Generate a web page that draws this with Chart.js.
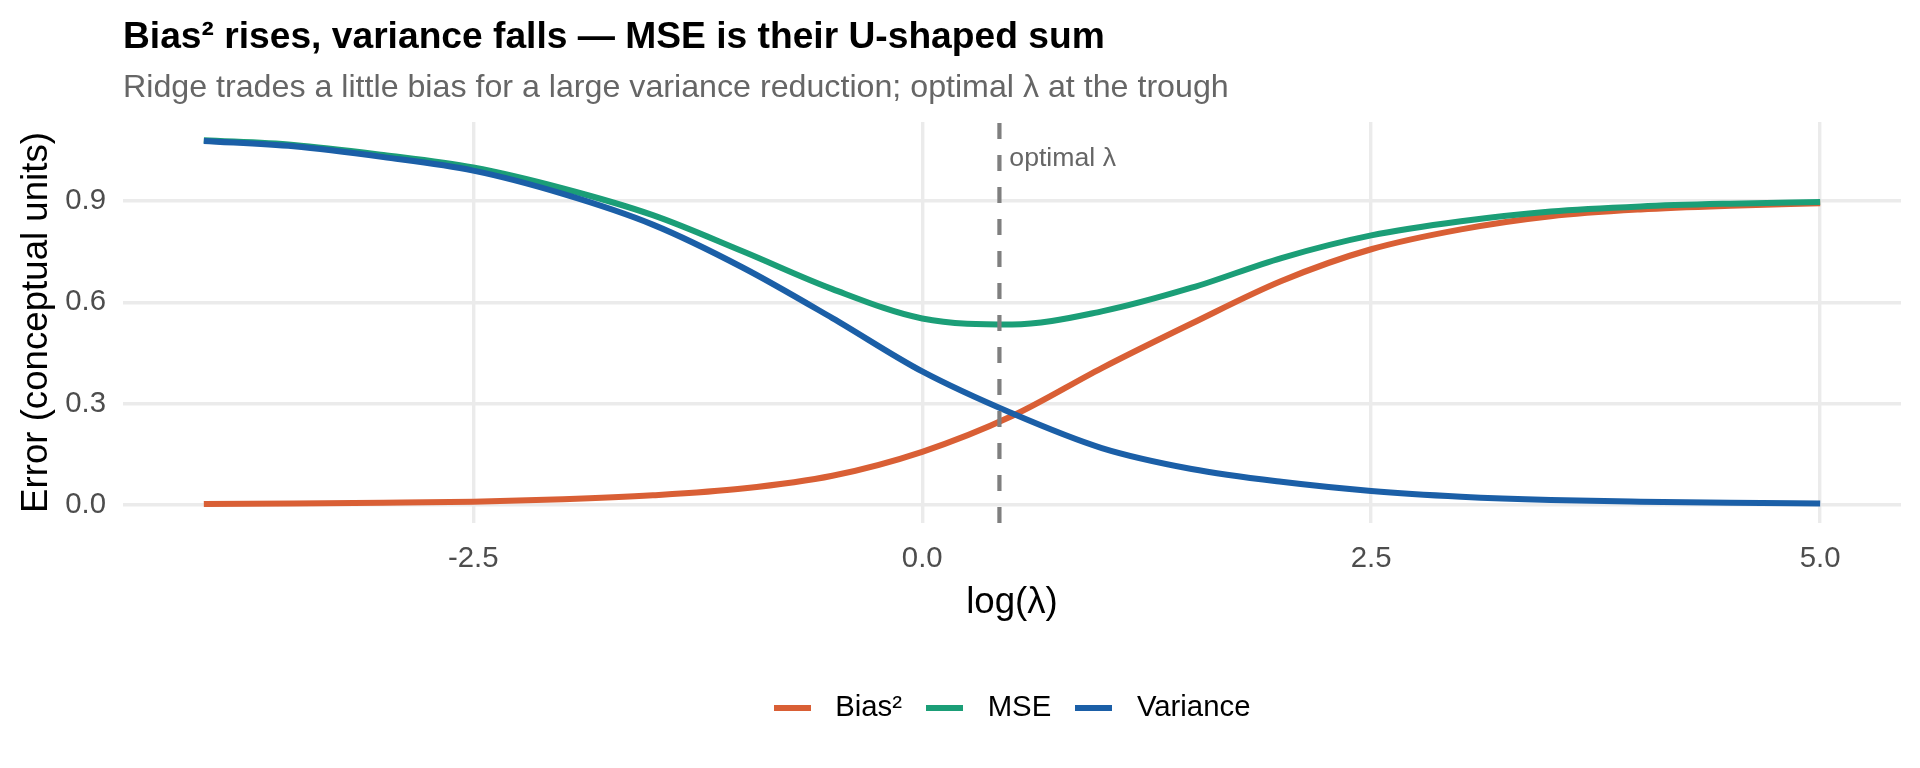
<!DOCTYPE html>
<html>
<head>
<meta charset="utf-8">
<script src="https://cdn.jsdelivr.net/npm/chart.js@4"></script>
<style>
  html, body { margin: 0; padding: 0; background: #ffffff; }
  #wrap { width: 1920px; height: 768px; }
</style>
</head>
<body>
<div id="wrap"><canvas id="c" width="1920" height="768"></canvas></div>
<script>
// ---- data ----
const LOG_LAMBDA = [-4, -3.5, -3, -2.5, -2, -1.5, -1, -0.5, 0, 0.5, 1, 1.5, 2, 2.5, 3, 3.5, 4, 4.5, 5];
const BIAS_SQ  = [0.002, 0.004, 0.006, 0.009, 0.016, 0.028, 0.048, 0.086, 0.157, 0.263, 0.405, 0.537, 0.663, 0.757, 0.816, 0.855, 0.875, 0.886, 0.893];
const VARIANCE = [1.078, 1.062, 1.030, 0.990, 0.921, 0.830, 0.703, 0.553, 0.395, 0.271, 0.168, 0.106, 0.068, 0.041, 0.024, 0.014, 0.009, 0.006, 0.004];
const MSE      = [1.080, 1.066, 1.036, 0.999, 0.937, 0.858, 0.751, 0.639, 0.552, 0.534, 0.573, 0.643, 0.731, 0.798, 0.840, 0.869, 0.884, 0.892, 0.897];
const SERIES_NAMES = ['Bias²', 'MSE', 'Variance'];
const X_TICKS = [-2.5, 0, 2.5, 5];
const X_TICK_LABELS = ['-2.5', '0.0', '2.5', '5.0'];
const Y_TICKS = [0, 0.3, 0.6, 0.9];
const Y_TICK_LABELS = ['0.0', '0.3', '0.6', '0.9'];
const OPTIMAL_LOG_LAMBDA = 0.43;
const ANNOT_TEXT = 'optimal λ';
const ANNOT_X = 0.485;
const ANNOT_Y = 1.005;

const TITLE = 'Bias² rises, variance falls — MSE is their U-shaped sum';
const SUBTITLE = 'Ridge trades a little bias for a large variance reduction; optimal λ at the trough';
const X_TITLE = 'log(λ)';
const Y_TITLE = 'Error (conceptual units)';

const COLORS = ['#D95F35', '#1B9E77', '#1B5FA7'];
const FONT = "'Liberation Sans', Arial, Helvetica, sans-serif";

Chart.defaults.font.family = FONT;

function keyImage(color) {
  const c = document.createElement('canvas');
  c.width = 37; c.height = 6;
  const g = c.getContext('2d');
  g.fillStyle = color;
  g.fillRect(0, 0, 37, 6);
  return c;
}

function pts(ys) { return LOG_LAMBDA.map((x, i) => ({ x: x, y: ys[i] })); }

const seriesValues = [BIAS_SQ, MSE, VARIANCE];
const datasets = SERIES_NAMES.map((name, i) => ({
  label: name,
  data: pts(seriesValues[i]),
  borderColor: COLORS[i],
  backgroundColor: COLORS[i],
  borderWidth: 6,
  pointRadius: 0,
  pointHoverRadius: 0,
  pointStyle: keyImage(COLORS[i]),
  fill: false,
  cubicInterpolationMode: 'monotone',
  borderCapStyle: 'butt',
  borderJoinStyle: 'round',
  order: 3 - i
}));

const vlinePlugin = {
  id: 'vline',
  afterLayout(chart) {
    // centre the legend over the panel like the reference
    if (chart.legend) { chart.legend.left -= 5; chart.legend.right -= 5; }
  },
  afterDatasetsDraw(chart) {
    const { ctx, chartArea, scales } = chart;
    const px = scales.x.getPixelForValue(OPTIMAL_LOG_LAMBDA);
    ctx.save();
    ctx.strokeStyle = '#7F7F7F';
    ctx.lineWidth = 4.2;
    ctx.lineCap = 'butt';
    ctx.setLineDash([16, 16]);
    ctx.beginPath();
    ctx.moveTo(px, chartArea.bottom);
    ctx.lineTo(px, chartArea.top);
    ctx.stroke();
    ctx.setLineDash([]);
    ctx.fillStyle = '#666666';
    ctx.font = '26.67px ' + FONT;
    ctx.textAlign = 'left';
    ctx.textBaseline = 'alphabetic';
    ctx.fillText(ANNOT_TEXT, scales.x.getPixelForValue(ANNOT_X), scales.y.getPixelForValue(ANNOT_Y));
    ctx.restore();
  }
};

new Chart(document.getElementById('c'), {
  type: 'line',
  data: { datasets: datasets },
  plugins: [vlinePlugin],
  options: {
    responsive: false,
    devicePixelRatio: 1,
    animation: false,
    events: [],
    layout: { padding: { left: 0, right: 19, top: 0, bottom: 35.27 } },
    scales: {
      x: {
        type: 'linear',
        min: -4.45,
        max: 5.45,
        afterFit(s) { s.height = 156.4; },
        afterBuildTicks(s) { s.ticks = X_TICKS.map(v => ({ value: v })); },
        grid: { color: '#EBEBEB', lineWidth: 3.4, drawTicks: false },
        border: { display: false },
        ticks: {
          padding: 18.2,
          color: '#4D4D4D',
          font: { size: 29.33 },
          maxRotation: 0,
          callback(v) { const k = X_TICKS.indexOf(v); return k >= 0 ? X_TICK_LABELS[k] : ''; }
        },
        title: {
          display: true,
          text: X_TITLE,
          color: '#000000',
          font: { size: 36.67 },
          padding: { top: 0, bottom: 54.4 }
        }
      },
      y: {
        type: 'linear',
        min: -0.054,
        max: 1.134,
        afterFit(s) { s.width = 123; },
        afterBuildTicks(s) { s.ticks = Y_TICKS.map(v => ({ value: v })); },
        grid: { color: '#EBEBEB', lineWidth: 3.4, drawTicks: false },
        border: { display: false },
        ticks: {
          padding: 17,
          color: '#4D4D4D',
          font: { size: 29.33 },
          callback(v) { const k = Y_TICKS.indexOf(v); return k >= 0 ? Y_TICK_LABELS[k] : ''; }
        },
        title: {
          display: true,
          text: Y_TITLE,
          color: '#000000',
          font: { size: 36.67 },
          padding: { top: 14.5, bottom: 0 }
        }
      }
    },
    plugins: {
      tooltip: { enabled: false },
      title: {
        display: true,
        text: TITLE,
        align: 'start',
        fullSize: false,
        color: '#000000',
        font: { size: 37.2, weight: 'bold' },
        padding: { top: 15.8, bottom: 8.4 }
      },
      subtitle: {
        display: true,
        text: SUBTITLE,
        align: 'start',
        fullSize: false,
        color: '#666666',
        font: { size: 32.2, weight: 'normal' },
        padding: { top: 0, bottom: 14.52 }
      },
      legend: {
        display: true,
        position: 'bottom',
        fullSize: false,
        align: 'center',
        labels: {
          usePointStyle: true,
          pointStyleWidth: 57,
          padding: 14,
          color: '#000000',
          font: { size: 29.33 },
          sort(a, b) { return a.datasetIndex - b.datasetIndex; }
        }
      }
    }
  }
});
</script>
</body>
</html>
